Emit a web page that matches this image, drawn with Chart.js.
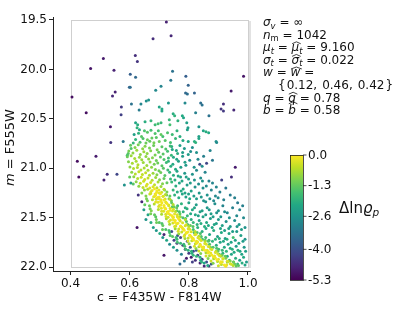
<!DOCTYPE html>
<html lang="en">
<head>
<meta charset="UTF-8">
<title>cmd</title>
<style>
  body { margin: 0; background: #fff; }
  canvas { display: block; }
</style>
</head>
<body>
<canvas id="cmdChart" width="415" height="311"></canvas>
<script src="https://cdn.jsdelivr.net/npm/chart.js"></script>
<script>
// each star: [c = F435W - F814W, m = F555W, delta ln rho_p]
var outliers = [
  [0.724,19.52,-4.8],[0.679,19.69,-4.6],[0.740,19.66,-4.7],[0.511,19.89,-4.9],[0.468,19.99,-5.0],
  [0.619,19.86,-4.6],[0.626,19.92,-4.5],[0.547,20.01,-4.8],[0.985,20.07,-5.0],[0.405,20.28,-5.1],
  [0.551,20.23,-4.8],[0.542,20.27,-4.7],[0.943,20.22,-4.9],[0.917,20.35,-4.6],[0.952,20.41,-4.7],
  [0.909,20.40,-4.5],[0.917,20.42,-4.4],[0.453,20.44,-5.1],[0.572,20.38,-4.4],[0.571,20.46,-4.3],
  [0.535,20.58,-4.9],[0.536,20.74,-4.5],[0.486,20.88,-4.9],[0.423,20.93,-5.1],[0.444,20.98,-5.0],
  [0.428,21.09,-5.1],[0.524,21.06,-4.6],[0.557,21.06,-4.2],[0.513,21.12,-4.8],[0.957,20.99,-4.9],
  [0.944,21.09,-4.6],[0.911,21.12,-4.3],[0.837,20.96,-4.1],[0.860,20.95,-4.2],[0.578,20.73,-3.2]
];

var upperTeal = [
  [0.599,20.18,-3.6],[0.602,20.05,-3.7],[0.620,20.08,-3.5],[0.602,20.18,-3.4],[0.745,20.02,-3.3],
  [0.739,20.11,-3.2],[0.790,20.07,-3.7],[0.798,20.16,-3.6],[0.706,20.17,-2.9],[0.688,20.21,-2.8],
  [0.789,20.24,-3.5],[0.795,20.25,-3.4],[0.819,20.24,-3.6],[0.606,20.35,-3.3],[0.638,20.35,-2.9],
  [0.632,20.41,-3.1],[0.656,20.32,-2.7],[0.664,20.31,-2.6],[0.731,20.34,-2.5],[0.787,20.34,-2.8],
  [0.700,20.38,-2.2],[0.709,20.40,-2.1],[0.709,20.42,-2.2],[0.840,20.34,-3.4],[0.845,20.36,-3.3],
  [0.823,20.44,-3.0],[0.868,20.47,-3.3]
];

var subgiants = [
  [0.747,20.45,-2.0],[0.752,20.47,-1.9],[0.778,20.47,-2.1],[0.782,20.49,-2.2],[0.734,20.51,-1.8],
  [0.763,20.52,-1.9],[0.793,20.54,-2.3],[0.620,20.54,-2.2],[0.627,20.56,-2.0],[0.625,20.59,-1.9],
  [0.633,20.61,-2.1],[0.652,20.53,-2.0],[0.672,20.52,-1.8],[0.686,20.56,-1.7],[0.696,20.55,-1.6],
  [0.706,20.54,-1.8],[0.736,20.56,-1.6],[0.797,20.59,-2.4],[0.834,20.58,-2.6],[0.795,20.61,-2.3],
  [0.849,20.62,-2.2],[0.858,20.63,-2.0],[0.867,20.64,-2.1],[0.834,20.68,-2.3],[0.834,20.70,-2.2],
  [0.892,20.73,-2.7],[0.798,20.73,-2.2],[0.819,20.73,-2.0],[0.823,20.74,-1.9],[0.650,20.62,-1.5],
  [0.660,20.635,-1.4],[0.672,20.615,-1.6],[0.686,20.65,-1.5],[0.697,20.62,-1.6],[0.706,20.66,-1.3],
  [0.615,20.66,-2.3],[0.630,20.645,-1.9],[0.640,20.68,-1.4],[0.620,20.71,-1.9],[0.645,20.70,-1.5],
  [0.660,20.712,-1.2],[0.675,20.695,-1.3],[0.690,20.688,-1.4],[0.712,20.678,-1.6],[0.728,20.64,-1.5],
  [0.744,20.66,-1.7],[0.760,20.62,-1.9],[0.755,20.70,-1.8],[0.770,20.68,-2.0],[0.780,20.72,-2.1],
  [0.720,20.72,-1.4],[0.738,20.74,-1.6],[0.700,20.73,-1.2],[0.682,20.742,-1.1],[0.668,20.728,-1.3],
  [0.655,20.745,-1.2],[0.635,20.738,-1.5],[0.612,20.744,-1.8]
];

var upperMS = [
  [0.603,20.768,-1.3],[0.618,20.791,-1.0],[0.629,20.762,-1.1],[0.644,20.803,-0.9],[0.652,20.777,-1.0],
  [0.667,20.795,-1.1],[0.681,20.771,-1.2],[0.693,20.812,-1.1],[0.709,20.783,-1.4],[0.722,20.806,-1.5],
  [0.737,20.774,-1.7],[0.597,20.826,-1.1],[0.611,20.845,-0.9],[0.624,20.818,-0.8],[0.636,20.861,-0.9],
  [0.648,20.834,-0.8],[0.659,20.852,-0.9],[0.671,20.823,-1.0],[0.686,20.866,-1.1],[0.698,20.838,-1.3],
  [0.713,20.857,-1.4],[0.728,20.829,-1.6],[0.741,20.868,-1.8],[0.592,20.884,-1.2],[0.605,20.873,-0.8],
  [0.617,20.902,-0.7],[0.633,20.889,-0.8],[0.641,20.915,-0.8],[0.655,20.881,-0.9],[0.664,20.906,-0.9],
  [0.677,20.893,-1.0],[0.690,20.921,-1.2],[0.704,20.887,-1.4],[0.716,20.911,-1.5],[0.731,20.897,-1.7],
  [0.596,20.934,-1.0],[0.609,20.951,-0.7],[0.622,20.929,-0.7],[0.628,20.966,-0.6],[0.646,20.943,-0.8],
  [0.658,20.972,-0.8],[0.669,20.938,-0.9],[0.683,20.959,-1.1],[0.695,20.947,-1.2],[0.709,20.976,-1.4],
  [0.724,20.941,-1.7],[0.601,20.987,-0.9],[0.613,21.004,-0.6],[0.626,20.993,-0.6],[0.638,21.018,-0.6],
  [0.649,20.998,-0.7],[0.662,21.021,-0.7],[0.674,20.989,-0.9],[0.687,21.012,-1.0],[0.699,21.026,-1.2],
  [0.714,21.001,-1.4],[0.729,21.019,-1.7],[0.607,21.041,-0.9],[0.619,21.058,-0.6],[0.631,21.037,-0.5],
  [0.643,21.064,-0.5],[0.654,21.046,-0.5],[0.667,21.071,-0.6],[0.679,21.052,-0.8],[0.692,21.067,-1.0],
  [0.705,21.044,-1.2],[0.719,21.073,-1.4],[0.614,21.087,-0.9],[0.627,21.104,-0.6],[0.639,21.092,-0.4],
  [0.651,21.113,-0.4],[0.662,21.098,-0.5],[0.676,21.121,-0.6],[0.688,21.094,-0.8],[0.701,21.116,-1.0],
  [0.716,21.103,-1.3],[0.622,21.138,-0.9],[0.636,21.152,-0.5],[0.647,21.133,-0.4],[0.659,21.161,-0.3],
  [0.671,21.144,-0.4],[0.684,21.168,-0.5],[0.696,21.139,-0.7],[0.711,21.158,-1.0],[0.726,21.147,-1.3],
  [0.631,21.183,-0.9],[0.645,21.196,-0.5],[0.656,21.179,-0.3],[0.668,21.201,-0.3],[0.679,21.187,-0.3],
  [0.692,21.198,-0.5],[0.706,21.184,-0.8],[0.582,21.17,-2.6],[0.604,21.15,-2.3],[0.595,20.85,-1.4],
  [0.592,20.87,-1.6],[0.612,21.16,-1.4],[0.600,21.09,-1.3],[0.605,20.80,-1.5]
];

var ridge = [
  [0.661,21.214,-0.6],[0.672,21.238,-0.3],[0.684,21.207,-0.1],[0.691,21.246,-0.1],[0.699,21.221,-0.2],[0.708,21.243,-0.4],[0.716,21.212,-0.6],
  [0.668,21.262,-0.5],[0.681,21.289,-0.2],[0.688,21.271,-0.1],[0.694,21.296,-0.1],[0.704,21.258,-0.1],[0.713,21.284,-0.3],[0.721,21.267,-0.6],
  [0.677,21.318,-0.6],[0.688,21.341,-0.2],[0.699,21.309,-0.1],[0.705,21.333,-0.05],[0.716,21.322,-0.1],[0.723,21.347,-0.3],[0.736,21.313,-0.6],
  [0.683,21.362,-0.6],[0.698,21.388,-0.3],[0.706,21.371,-0.1],[0.717,21.394,-0.05],[0.726,21.358,-0.1],[0.732,21.381,-0.3],[0.747,21.366,-0.6],
  [0.697,21.417,-0.6],[0.708,21.436,-0.3],[0.721,21.409,-0.1],[0.727,21.443,-0.05],[0.737,21.426,-0.1],[0.748,21.414,-0.3],[0.755,21.438,-0.6],
  [0.708,21.466,-0.7],[0.723,21.489,-0.3],[0.731,21.458,-0.1],[0.743,21.481,-0.05],[0.748,21.497,-0.1],[0.761,21.471,-0.3],[0.769,21.492,-0.6],
  [0.724,21.512,-0.7],[0.733,21.538,-0.3],[0.748,21.521,-0.1],[0.753,21.547,-0.05],[0.765,21.509,-0.1],[0.771,21.533,-0.3],[0.788,21.518,-0.6],
  [0.735,21.566,-0.7],[0.752,21.589,-0.3],[0.759,21.561,-0.1],[0.772,21.584,-0.05],[0.777,21.597,-0.1],[0.791,21.572,-0.3],[0.800,21.591,-0.6],
  [0.754,21.613,-0.8],[0.764,21.637,-0.3],[0.779,21.609,-0.1],[0.784,21.628,-0.05],[0.797,21.646,-0.1],[0.803,21.618,-0.3],[0.821,21.641,-0.6],
  [0.766,21.664,-0.8],[0.784,21.688,-0.3],[0.791,21.659,-0.1],[0.804,21.679,-0.05],[0.809,21.696,-0.1],[0.824,21.668,-0.3],[0.834,21.689,-0.6],
  [0.787,21.712,-0.8],[0.797,21.737,-0.3],[0.812,21.708,-0.1],[0.817,21.729,-0.05],[0.830,21.746,-0.1],[0.837,21.718,-0.3],[0.855,21.741,-0.6],
  [0.801,21.764,-0.9],[0.819,21.789,-0.3],[0.826,21.758,-0.1],[0.839,21.781,-0.05],[0.844,21.796,-0.1],[0.859,21.769,-0.3],[0.869,21.792,-0.6],
  [0.824,21.812,-0.9],[0.834,21.838,-0.4],[0.849,21.809,-0.1],[0.854,21.829,-0.05],[0.867,21.846,-0.1],[0.874,21.818,-0.3],[0.892,21.841,-0.6],
  [0.840,21.864,-1.0],[0.858,21.889,-0.4],[0.865,21.858,-0.1],[0.878,21.878,-0.05],[0.883,21.896,-0.1],[0.898,21.868,-0.3],[0.908,21.891,-0.6],
  [0.865,21.913,-1.0],[0.875,21.938,-0.4],[0.890,21.909,-0.1],[0.895,21.928,-0.05],[0.908,21.946,-0.1],[0.915,21.918,-0.3],[0.933,21.941,-0.6],
  [0.882,21.962,-1.0],[0.900,21.988,-0.4],[0.907,21.958,-0.1],[0.920,21.979,-0.05],[0.925,21.993,-0.1],[0.940,21.966,-0.3],[0.950,21.985,-0.6]
];

var ridgeFill = [
  [0.676,21.225,-0.2],[0.692,21.228,-0.1],[0.671,21.255,-0.4],[0.686,21.26,-0.1],[0.700,21.252,-0.2],
  [0.684,21.285,-0.2],[0.700,21.29,-0.1],[0.713,21.283,-0.3],[0.690,21.315,-0.3],[0.706,21.318,-0.1],
  [0.720,21.312,-0.3],[0.696,21.345,-0.2],[0.709,21.35,-0.1],[0.722,21.343,-0.2],[0.701,21.375,-0.3],
  [0.716,21.378,-0.1],[0.732,21.372,-0.3],[0.707,21.405,-0.2],[0.722,21.41,-0.1],[0.737,21.404,-0.3],
  [0.715,21.435,-0.3],[0.730,21.438,-0.1],[0.745,21.432,-0.3],[0.722,21.465,-0.3],[0.737,21.47,-0.1],
  [0.752,21.463,-0.2],[0.730,21.495,-0.4],[0.746,21.498,-0.1],[0.761,21.492,-0.3],[0.738,21.525,-0.3],
  [0.754,21.53,-0.1],[0.769,21.523,-0.3],[0.746,21.555,-0.4],[0.763,21.558,-0.1],[0.779,21.552,-0.3],
  [0.756,21.585,-0.4],[0.772,21.59,-0.1],[0.788,21.583,-0.3],[0.766,21.615,-0.4],[0.782,21.618,-0.1],
  [0.798,21.612,-0.3],[0.776,21.645,-0.5],[0.792,21.65,-0.1],[0.808,21.643,-0.3],[0.786,21.675,-0.5],
  [0.803,21.678,-0.2],[0.820,21.672,-0.3],[0.798,21.705,-0.5],[0.815,21.71,-0.1],[0.831,21.703,-0.3],
  [0.810,21.735,-0.5],[0.826,21.738,-0.2],[0.842,21.732,-0.3],[0.822,21.765,-0.6],[0.838,21.77,-0.2],
  [0.854,21.763,-0.3],[0.834,21.795,-0.6],[0.850,21.798,-0.2],[0.866,21.792,-0.3],[0.846,21.825,-0.7],
  [0.862,21.83,-0.2],[0.878,21.823,-0.3],[0.858,21.855,-0.7],[0.874,21.858,-0.2],[0.890,21.852,-0.3],
  [0.870,21.885,-0.7],[0.887,21.888,-0.2],[0.903,21.882,-0.3],[0.884,21.915,-0.7],[0.900,21.92,-0.2],
  [0.916,21.913,-0.3],[0.897,21.945,-0.6],[0.913,21.948,-0.2],[0.930,21.942,-0.3],[0.910,21.975,-0.6],
  [0.928,21.978,-0.2],[0.944,21.972,-0.4]
];

var envelope = [
  [0.650,21.22,-0.9],[0.655,21.28,-1.0],[0.660,21.33,-1.1],[0.667,21.38,-1.2],[0.673,21.43,-1.0],
  [0.684,21.47,-1.3],[0.690,21.52,-1.2],[0.700,21.55,-1.4],[0.712,21.58,-1.3],[0.722,21.62,-1.5],
  [0.735,21.65,-1.6],[0.745,21.69,-1.4],[0.760,21.72,-1.7],[0.772,21.76,-1.8],[0.786,21.79,-1.6],
  [0.798,21.83,-1.9],[0.810,21.86,-2.0],[0.826,21.89,-1.8],[0.840,21.93,-2.1],[0.852,21.96,-2.2],
  [0.718,21.22,-1.0],[0.725,21.27,-1.2],[0.733,21.31,-1.1],[0.742,21.35,-1.3],[0.750,21.39,-1.2],
  [0.760,21.43,-1.4],[0.770,21.46,-1.3],[0.780,21.50,-1.5],[0.792,21.54,-1.4],[0.805,21.58,-1.3],
  [0.815,21.62,-1.6],[0.828,21.65,-1.4],[0.842,21.69,-1.5],[0.855,21.73,-1.3],[0.870,21.77,-1.5],
  [0.882,21.80,-1.4],[0.898,21.84,-1.3],[0.912,21.88,-1.2],[0.925,21.91,-1.1],[0.940,21.94,-1.0],
  [0.955,21.97,-1.2],[0.968,21.985,-1.4],
  [0.641,21.25,-1.0],[0.657,21.31,-1.1],[0.651,21.37,-1.3],[0.669,21.41,-1.2],[0.671,21.46,-1.1],
  [0.688,21.49,-1.4],[0.691,21.55,-1.2],[0.709,21.56,-1.5],[0.711,21.62,-1.3],[0.733,21.63,-1.6],
  [0.737,21.68,-1.5],[0.757,21.70,-1.7],[0.761,21.75,-1.6],[0.783,21.77,-1.8],[0.789,21.82,-1.7],
  [0.809,21.84,-1.9],[0.815,21.88,-1.8],[0.838,21.90,-2.0],[0.843,21.95,-1.9],[0.864,21.985,-2.1],
  [0.726,21.24,-1.1],[0.736,21.28,-1.3],[0.741,21.33,-1.2],[0.744,21.39,-1.4],[0.759,21.40,-1.3],
  [0.768,21.44,-1.5],[0.771,21.49,-1.4],[0.789,21.51,-1.6],[0.796,21.57,-1.5],[0.814,21.59,-1.4],
  [0.818,21.65,-1.7],[0.839,21.66,-1.5],[0.846,21.72,-1.6],[0.866,21.74,-1.4],[0.873,21.80,-1.6],
  [0.894,21.81,-1.5],[0.903,21.87,-1.4],[0.923,21.89,-1.3],[0.930,21.95,-1.2],[0.951,21.95,-1.1],
  [0.960,21.99,-1.3]
];

var blueSide = [
  [0.629,21.27,-4.5],[0.641,21.34,-4.7],[0.625,21.60,-5.0],[0.716,21.67,-4.8],[0.716,21.88,-5.0],
  [0.750,21.73,-4.3],[0.760,21.76,-4.6],[0.772,21.70,-4.2],[0.780,21.78,-4.5],[0.788,21.82,-4.8],
  [0.795,21.74,-4.0],[0.800,21.86,-4.4],[0.808,21.90,-4.9],[0.815,21.84,-4.1],[0.822,21.93,-4.6],
  [0.830,21.88,-4.3],[0.838,21.96,-4.8],[0.845,21.92,-4.2],[0.852,21.99,-4.7],[0.860,21.95,-4.0],
  [0.868,21.99,-4.5],[0.876,21.97,-3.9],[0.762,21.68,-3.9],[0.742,21.64,-4.1],[0.805,21.80,-3.8],
  [0.825,21.83,-3.7],[0.812,21.95,-4.3],[0.792,21.91,-4.9]
];

var blueEdge = [
  [0.648,21.42,-2.4],[0.662,21.47,-2.2],[0.655,21.52,-2.6],[0.672,21.55,-2.0],[0.680,21.60,-2.3],
  [0.690,21.63,-2.5],[0.702,21.66,-2.1],[0.712,21.70,-2.6],[0.725,21.73,-2.2],[0.735,21.77,-2.8],
  [0.748,21.80,-2.4],[0.760,21.83,-2.7],[0.775,21.87,-3.0],[0.785,21.94,-3.2],[0.770,21.97,-3.5]
];

var redSide = [
  [0.742,20.78,-2.0],[0.758,20.82,-2.2],[0.770,20.77,-2.3],[0.785,20.80,-2.5],[0.798,20.86,-2.4],
  [0.812,20.79,-2.7],[0.826,20.84,-2.6],[0.748,20.89,-2.1],[0.765,20.93,-2.3],[0.779,20.88,-2.4],
  [0.790,20.97,-2.5],[0.803,20.92,-2.8],[0.818,20.99,-2.6],[0.850,20.88,-3.0],[0.872,20.82,-2.9],
  [0.894,20.74,-2.8],[0.739,20.98,-2.0],[0.755,21.01,-2.1],[0.880,20.92,-3.2],[0.762,20.85,-2.0],
  [0.735,21.04,-1.9],[0.748,21.07,-2.0],[0.760,21.03,-2.2],[0.772,21.09,-2.3],[0.786,21.05,-2.5],
  [0.799,21.11,-2.4],[0.812,21.06,-2.6],[0.826,21.02,-2.8],[0.840,21.10,-2.7],[0.855,21.04,-2.9],
  [0.868,21.13,-3.0],[0.742,21.14,-1.8],[0.756,21.18,-2.0],[0.768,21.15,-2.2],[0.781,21.21,-2.1],
  [0.794,21.17,-2.4],[0.808,21.23,-2.3],[0.821,21.19,-2.6],[0.835,21.25,-2.5],[0.848,21.20,-2.7],
  [0.862,21.27,-2.6],[0.876,21.22,-2.9],[0.890,21.28,-2.8],[0.905,21.24,-3.0],[0.925,21.20,-3.2],
  [0.752,21.27,-1.9],[0.766,21.30,-2.0],[0.778,21.26,-2.2],[0.790,21.29,-2.3],[0.803,21.31,-2.1],
  [0.817,21.28,-2.4],[0.880,21.15,-2.9],[0.940,21.27,-3.1],
  [0.775,21.36,-1.9],[0.788,21.40,-2.0],[0.800,21.35,-2.2],[0.812,21.42,-2.1],[0.825,21.37,-2.4],
  [0.838,21.44,-2.3],[0.850,21.33,-2.6],[0.862,21.40,-2.5],[0.875,21.46,-2.4],[0.888,21.36,-2.7],
  [0.900,21.43,-2.6],[0.915,21.38,-2.9],[0.930,21.45,-2.8],[0.948,21.40,-3.0],[0.965,21.35,-3.1],
  [0.795,21.48,-1.8],[0.808,21.52,-2.0],[0.822,21.47,-2.1],[0.835,21.53,-2.2],[0.848,21.49,-2.3],
  [0.860,21.55,-2.1],[0.873,21.51,-2.4],[0.886,21.57,-2.2],[0.900,21.52,-2.5],[0.913,21.58,-2.3],
  [0.926,21.54,-2.6],[0.940,21.59,-2.4],[0.955,21.53,-2.7],[0.970,21.57,-2.5],[0.985,21.50,-2.8],
  [0.990,21.60,-2.6],[0.955,21.30,-3.0],[0.972,21.42,-2.9],[0.982,21.38,-3.0],[0.962,21.48,-2.8],
  [0.830,21.60,-1.9],[0.845,21.64,-2.0],[0.858,21.61,-2.1],[0.870,21.67,-2.2],[0.884,21.63,-2.0],
  [0.897,21.69,-2.3],[0.910,21.65,-2.1],[0.923,21.71,-2.4],[0.936,21.66,-2.2],[0.950,21.70,-1.6],
  [0.962,21.64,-2.5],[0.976,21.68,-2.3],[0.990,21.72,-2.6],[0.880,21.74,-1.9],[0.893,21.78,-2.0],
  [0.906,21.75,-2.2],[0.920,21.80,-2.1],[0.933,21.77,-2.3],[0.947,21.82,-2.0],[0.960,21.79,-2.4],
  [0.973,21.84,-2.2],[0.987,21.80,-2.5],[0.915,21.86,-1.9],[0.930,21.89,-2.1],[0.944,21.87,-2.2],
  [0.958,21.91,-2.0],[0.972,21.93,-2.3],[0.985,21.90,-2.1],[0.995,21.95,-2.4],[0.965,21.97,-1.8]
];

var redSideFaint = [
  [0.731,20.93,-1.9],[0.746,20.96,-2.1],[0.759,20.91,-2.2],[0.773,20.99,-2.4],[0.787,20.94,-2.3],
  [0.744,20.81,-2.2],[0.779,20.84,-2.4],[0.806,20.83,-2.7],[0.831,20.91,-2.8],[0.845,20.98,-2.7],
  [0.738,21.11,-1.8],[0.753,21.12,-2.0],[0.764,21.08,-2.1],[0.777,21.13,-2.2],[0.791,21.09,-2.3],
  [0.805,21.15,-2.4],[0.819,21.12,-2.6],[0.833,21.16,-2.7],[0.846,21.13,-2.6],[0.859,21.18,-2.8],
  [0.893,21.19,-2.9],[0.747,21.22,-1.8],[0.761,21.24,-2.0],[0.774,21.23,-2.1],[0.787,21.25,-2.2],
  [0.799,21.26,-2.3],[0.826,21.31,-2.4],[0.842,21.29,-2.5],[0.857,21.34,-2.6],[0.871,21.31,-2.6],
  [0.884,21.33,-2.8],[0.899,21.30,-2.8],[0.918,21.32,-3.0],[0.762,21.38,-1.8],[0.781,21.44,-1.9],
  [0.794,21.41,-2.0],[0.806,21.46,-2.1],[0.819,21.40,-2.2],[0.832,21.48,-2.3],[0.845,21.43,-2.3],
  [0.857,21.47,-2.4],[0.869,21.42,-2.5],[0.882,21.49,-2.4],[0.894,21.45,-2.6],[0.908,21.49,-2.5],
  [0.921,21.44,-2.7],[0.937,21.50,-2.6],[0.815,21.55,-1.8],[0.828,21.57,-1.9],[0.841,21.56,-2.0],
  [0.853,21.59,-2.0],[0.866,21.58,-2.1],[0.879,21.60,-2.2],[0.893,21.56,-2.3],[0.907,21.61,-2.2],
  [0.921,21.63,-2.3],[0.935,21.61,-2.3],[0.948,21.64,-2.4],[0.963,21.59,-2.5],[0.978,21.62,-2.4],
  [0.857,21.70,-1.7],[0.868,21.73,-1.8],[0.890,21.72,-1.9],[0.903,21.71,-2.0],[0.917,21.74,-2.1],
  [0.929,21.72,-2.0],[0.943,21.75,-2.2],[0.957,21.73,-2.3],[0.969,21.76,-2.2],[0.983,21.74,-2.4],
  [0.901,21.82,-1.7],[0.913,21.83,-1.8],[0.927,21.84,-1.9],[0.940,21.81,-2.0],[0.953,21.85,-2.1],
  [0.966,21.83,-2.0],[0.979,21.87,-2.2],[0.992,21.84,-2.3],[0.937,21.93,-1.7],[0.951,21.95,-1.8],
  [0.980,21.96,-2.0],[0.990,21.98,-2.2]
];

var xTicks = [0.4, 0.6, 0.8, 1.0];
var yTicks = [19.5, 20.0, 20.5, 21.0, 21.5, 22.0];
var cbarTicks = [0.0, -1.3, -2.6, -4.0, -5.3];
var cbarMin = -5.3, cbarMax = 0.0;

var viridis = ['#440154', '#482475', '#414487', '#355f8d', '#2a788e', '#21918c',
               '#22a884', '#44bf70', '#7ad151', '#bddf26', '#fde725'];

function hexToRgb(h) {
  return [parseInt(h.substr(1, 2), 16), parseInt(h.substr(3, 2), 16), parseInt(h.substr(5, 2), 16)];
}

function viridisColor(v) {
  var t = (v - cbarMin) / (cbarMax - cbarMin);
  t = Math.max(0, Math.min(1, t)) * (viridis.length - 1);
  var i = Math.min(Math.floor(t), viridis.length - 2);
  var f = t - i;
  var a = hexToRgb(viridis[i]), b = hexToRgb(viridis[i + 1]);
  var c = a.map(function(x, k) { return Math.round(x + (b[k] - x) * f); });
  return 'rgb(' + c.join(',') + ')';
}

// low values first so the yellow ridge sits on top
var stars = [].concat(outliers, upperTeal, subgiants, upperMS, ridge, ridgeFill,
                      envelope, blueSide, blueEdge, redSide, redSideFaint)
  .sort(function(a, b) { return a[2] - b[2]; });

var points = stars.map(function(s) { return {x: s[0], y: s[1]}; });
var colors = stars.map(function(s) { return viridisColor(s[2]); });

var FONT = '"DejaVu Sans", sans-serif';

// draws [text, kind, extra] pieces; kind: r roman, i italic, s italic sub, sr roman sub, h italic with hat, gap
function drawRich(ctx, x, y, parts, size, measureOnly) {
  var x0 = x;
  parts.forEach(function(p) {
    var t = p[0], k = p[1];
    if (k === 'gap') { x += p[2]; return; }
    var sub = (k === 's' || k === 'sr');
    var fs = sub ? size * 0.7 : size;
    var style = (k === 'r' || k === 'sr') ? '' : 'italic ';
    ctx.font = style + fs + 'px ' + FONT;
    var w = ctx.measureText(t).width;
    if (!measureOnly) {
      ctx.fillText(t, x, y + (sub ? size * 0.22 : 0));
      if (k === 'h') {
        var lift = p[2] || 0;
        ctx.save();
        ctx.lineWidth = 0.8;
        ctx.beginPath();
        ctx.moveTo(x + 0.5, y - size * 0.62 - lift);
        ctx.lineTo(x + w / 2 + 1, y - size * 0.78 - lift);
        ctx.lineTo(x + w + 1.5, y - size * 0.62 - lift);
        ctx.stroke();
        ctx.restore();
      }
    }
    x += w;
  });
  return x - x0;
}

var annotation = [
  {dx: 0, parts: [['σ', 'i'], ['v', 's'], [' = ∞', 'r']]},
  {dx: 0, parts: [['n', 'i'], ['m', 'sr'], [' = 1042', 'r']]},
  {dx: 0, parts: [['μ', 'i'], ['t', 's'], [' = ', 'r'], ['μ', 'h'], ['t', 's'], [' = 9.160', 'r']]},
  {dx: 0, parts: [['σ', 'i'], ['t', 's'], [' = ', 'r'], ['σ', 'h'], ['t', 's'], [' = 0.022', 'r']]},
  {dx: 0, parts: [['w', 'i'], [' = ', 'r'], ['w', 'h'], [' =', 'r']]},
  {dx: 15, parts: [['{', 'r'], ['', 'gap', 1], ['0.12,', 'r'], ['', 'gap', 5], ['0.46,', 'r'],
                   ['', 'gap', 5], ['0.42', 'r'], ['', 'gap', 1], ['}', 'r']]},
  {dx: 0, parts: [['q', 'i'], [' = ', 'r'], ['q', 'h'], [' = 0.78', 'r']]},
  {dx: 0, parts: [['b', 'i'], [' = ', 'r'], ['b', 'h', 3], [' = 0.58', 'r']]}
];

var extras = {
  id: 'extras',
  beforeDatasetsDraw: function(chart) {
    var ctx = chart.ctx, xs = chart.scales.x, ys = chart.scales.y;
    var l = xs.getPixelForValue(xTicks[0]), r = xs.getPixelForValue(xTicks[xTicks.length - 1]);
    var t = ys.getPixelForValue(yTicks[0]), b = ys.getPixelForValue(yTicks[yTicks.length - 1]);
    ctx.save();
    ctx.strokeStyle = '#cfcfcf';
    ctx.lineWidth = 1;
    ctx.strokeRect(Math.round(l) + 0.5, Math.round(t) + 0.5, Math.round(r - l), Math.round(b - t));
    ctx.fillStyle = '#e2e2e2';
    ctx.fillRect(Math.round(r) + 1, Math.round(t) + 1, 2, Math.round(b - t));
    ctx.restore();
  },
  afterDraw: function(chart) {
    var ctx = chart.ctx, xs = chart.scales.x, ys = chart.scales.y;
    ctx.save();
    ctx.fillStyle = '#111';
    ctx.strokeStyle = '#111';
    ctx.textBaseline = 'alphabetic';

    // axis titles
    var cx = (xs.getPixelForValue(xTicks[0]) + xs.getPixelForValue(xTicks[xTicks.length - 1])) / 2;
    ctx.font = '12.5px ' + FONT;
    ctx.textAlign = 'center';
    ctx.fillText('c = F435W - F814W', cx, 301);
    ctx.textAlign = 'left';
    var yParts = [['m', 'i'], [' = F555W', 'r']];
    var yw = drawRich(ctx, 0, 0, yParts, 13, true);
    ctx.save();
    ctx.translate(13.5, (ys.getPixelForValue(yTicks[0]) + ys.getPixelForValue(yTicks[yTicks.length - 1])) / 2 + 4);
    ctx.rotate(-Math.PI / 2);
    drawRich(ctx, -yw / 2, 0, yParts, 13);
    ctx.restore();

    // fit summary
    annotation.forEach(function(line, i) {
      drawRich(ctx, 263 + line.dx, 26 + i * 12.6, line.parts, 12);
    });

    // colour bar
    var bx = 290, bw = 13, bt = 155, bb = 280;
    var g = ctx.createLinearGradient(0, bb, 0, bt);
    viridis.forEach(function(c, i) { g.addColorStop(i / (viridis.length - 1), c); });
    ctx.fillStyle = g;
    ctx.fillRect(bx, bt, bw, bb - bt);
    ctx.lineWidth = 0.8;
    ctx.strokeStyle = '#222';
    ctx.strokeRect(bx + 0.4, bt + 0.4, bw, bb - bt);
    ctx.fillStyle = '#111';
    ctx.font = '12px ' + FONT;
    ctx.textBaseline = 'middle';
    cbarTicks.forEach(function(v) {
      var py = bt + (cbarMax - v) / (cbarMax - cbarMin) * (bb - bt);
      ctx.beginPath();
      ctx.moveTo(bx + bw, py);
      ctx.lineTo(bx + bw + 3.5, py);
      ctx.stroke();
      ctx.fillText(v.toFixed(1), bx + bw + 5, py + 0.5);
    });
    ctx.textBaseline = 'alphabetic';
    drawRich(ctx, 339, 213, [['Δln', 'r'], ['ϱ', 'i'], ['p', 's']], 15);
    ctx.restore();
  }
};

var chart = new Chart(document.getElementById('cmdChart').getContext('2d'), {
  type: 'scatter',
  data: {
    datasets: [{
      label: 'stars',
      data: points,
      pointBackgroundColor: colors,
      pointBorderWidth: 0,
      pointRadius: 1.5,
      pointStyle: 'circle'
    }]
  },
  options: {
    responsive: false,
    animation: false,
    devicePixelRatio: 1,
    layout: { padding: { left: 0, top: 17, right: 165, bottom: 0 } },
    scales: {
      x: {
        type: 'linear',
        min: 0.3408,
        max: 1.0068,
        afterBuildTicks: function(scale) { scale.ticks = xTicks.map(function(v) { return {value: v}; }); },
        afterFit: function(scale) { scale.height = 40; },
        ticks: {
          color: '#111',
          padding: 2,
          font: { size: 12, family: FONT },
          callback: function(v) { return v.toFixed(1); }
        },
        grid: { drawOnChartArea: false, drawTicks: true, tickLength: 4, tickColor: '#222' },
        border: { display: true, color: '#222', width: 1 }
      },
      y: {
        type: 'linear',
        reverse: true,
        min: 19.47,
        max: 22.04,
        afterBuildTicks: function(scale) { scale.ticks = yTicks.map(function(v) { return {value: v}; }); },
        afterFit: function(scale) { scale.width = 53; },
        ticks: {
          color: '#111',
          padding: 2,
          font: { size: 12, family: FONT },
          callback: function(v) { return v.toFixed(1); }
        },
        grid: { drawOnChartArea: false, drawTicks: true, tickLength: 4, tickColor: '#222' },
        border: { display: true, color: '#222', width: 1 }
      }
    },
    plugins: {
      legend: { display: false },
      title: { display: false },
      tooltip: { enabled: false }
    }
  },
  plugins: [extras]
});
</script>
</body>
</html>
